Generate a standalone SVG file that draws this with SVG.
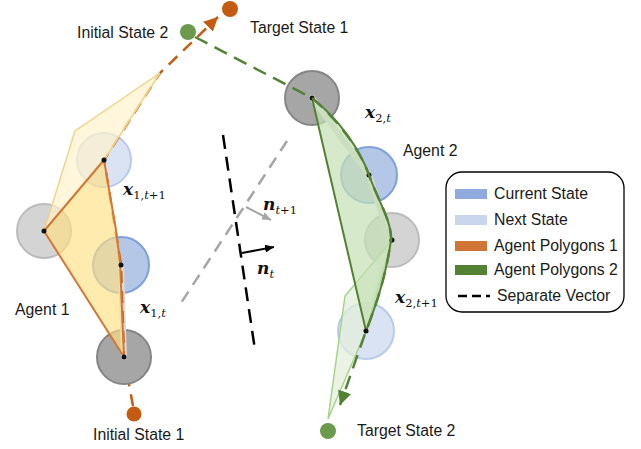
<svg xmlns="http://www.w3.org/2000/svg" width="641" height="449" viewBox="0 0 641 449">
<style>
.lbl{font-family:"Liberation Sans",Arial,sans-serif;font-size:15.8px;fill:#1a1a1a}
.math{font-family:"DejaVu Serif","Liberation Serif",serif;font-size:17px;font-weight:bold;font-style:italic;fill:#111}
.sub{font-size:11.5px;font-weight:normal;font-style:normal}
.it{font-style:italic}
.dark{fill:#a6a6a6;stroke:#858585;stroke-width:2}
.lgray{fill:#d0d0d0;stroke:#b5b5b5;stroke-width:2;opacity:0.9}
.cur{fill:#b4c7e7;stroke:#7ea1dc;stroke-width:2}
.nxt{fill:#dae3f3;stroke:#b8cbea;stroke-width:2}
.ctr{fill:#111}
.band{fill:none;stroke:#d9d9d9;stroke-width:6;stroke-linecap:round;stroke-linejoin:round}
</style>
<defs>
<marker id="arrO" markerUnits="userSpaceOnUse" markerWidth="16" markerHeight="14" refX="14" refY="7" orient="auto"><path d="M0,0 L14,7 L0,14 Z" fill="#c55a11"/></marker>
<marker id="arrG" markerUnits="userSpaceOnUse" markerWidth="16" markerHeight="14" refX="14" refY="7" orient="auto"><path d="M0,0 L14,7 L0,14 Z" fill="#548235"/></marker>
<marker id="arrK" markerUnits="userSpaceOnUse" markerWidth="10" markerHeight="8" refX="9" refY="4" orient="auto"><path d="M0,0 L9,4 L0,8 Z" fill="#000"/></marker>
<marker id="arrGr" markerUnits="userSpaceOnUse" markerWidth="10" markerHeight="8" refX="9" refY="4" orient="auto"><path d="M0,0 L9,4 L0,8 Z" fill="#a6a6a6"/></marker>
</defs>
<rect width="641" height="449" fill="#fff"/>

<!-- Agent 1 -->
<g id="agent1">
<path d="M133,406 L124,357" fill="none" stroke="#c55a11" stroke-width="2.5" stroke-dasharray="12 8"/>
<circle class="dark" cx="124" cy="357" r="27"/>
<circle class="lgray" cx="44" cy="231" r="27"/>
<circle class="cur" cx="121" cy="265" r="28"/>
<circle class="nxt" cx="104" cy="160" r="27"/>
<path class="band" d="M124,357 L121,265"/>
<path d="M124,357 L121,265 L104,160 L160,73 L218,17" fill="none" stroke="#c55a11" stroke-width="2.5" stroke-dasharray="12 8" stroke-dashoffset="6" marker-end="url(#arrO)"/>
<polygon points="44,231 75,131 160,73 104,160" fill="#fff2cc" fill-opacity="0.7" stroke="#f0d48a" stroke-width="1.5"/>
<polygon points="104,160 44,231 124,357 120,262 116,230" fill="#ffe083" fill-opacity="0.65" stroke="#d27835" stroke-width="2" stroke-linejoin="round"/>
<circle class="ctr" cx="124" cy="357" r="2.5"/>
<circle class="ctr" cx="44" cy="231" r="2.5"/>
<circle class="ctr" cx="121" cy="265" r="2.5"/>
<circle class="ctr" cx="104" cy="160" r="2.5"/>
<text class="lbl" x="15" y="315">Agent 1</text>
</g>

<!-- Agent 2 -->
<g id="agent2">
<circle class="dark" cx="312" cy="98" r="27"/>
<circle class="cur" cx="369" cy="175" r="28"/>
<circle class="lgray" cx="392" cy="240" r="27"/>
<circle class="nxt" cx="366" cy="331" r="28"/>
<path class="band" d="M312,98 L369,175 L390,240 L366,331"/>
<polygon points="392,240 345,296 328,419 366,331" fill="#e2f0d9" fill-opacity="0.7" stroke="#a9d18e" stroke-width="1.5"/>
<path d="M312,98 C340,120 360,150 369,175 C378,200 392,222 391,240 C386,275 378,300 366,331 Z" fill="#c5e0b4" fill-opacity="0.7" stroke="#548235" stroke-width="2" stroke-linejoin="round"/>
<circle class="ctr" cx="312" cy="98" r="2.5"/>
<circle class="ctr" cx="369" cy="175" r="2.5"/>
<circle class="ctr" cx="392" cy="240" r="2.5"/>
<circle class="ctr" cx="366" cy="331" r="2.5"/>
<text class="lbl" x="403" y="156">Agent 2</text>
</g>

<!-- States -->
<g id="initial1">
<circle cx="134" cy="414" r="7.5" fill="#c55a11"/>
<text class="lbl" x="93" y="440">Initial State 1</text>
</g>
<g id="target1">
<circle cx="230" cy="9" r="8" fill="#c55a11"/>
<text class="lbl" x="250" y="33">Target State 1</text>
</g>
<g id="initial2">
<circle cx="188" cy="32" r="8" fill="#6b9a4c"/>
<text class="lbl" x="77" y="38">Initial State 2</text>
</g>
<g id="target2">
<circle cx="328" cy="431" r="8" fill="#6b9a4c"/>
<text class="lbl" x="357" y="436">Target State 2</text>
</g>

<!-- connectors -->
<g id="connectors">
<path d="M195,37 L312,98 C340,122 360,150 369,175 C378,200 392,222 391,240 C386,275 378,300 366,331 L340,405" fill="none" stroke="#548235" stroke-width="2.5" stroke-dasharray="14 8" marker-end="url(#arrG)"/>
<line x1="223" y1="135" x2="255" y2="350" stroke="#000" stroke-width="2.5" stroke-dasharray="14 8"/>
<line x1="287" y1="141" x2="181" y2="303" stroke="#a6a6a6" stroke-width="2.5" stroke-dasharray="12 8"/>
<line x1="242" y1="253" x2="274" y2="247" stroke="#000" stroke-width="2" marker-end="url(#arrK)"/>
<line x1="246" y1="207" x2="271" y2="220" stroke="#a6a6a6" stroke-width="2" marker-end="url(#arrGr)"/>
</g>

<!-- math labels -->
<g id="math">
<text class="math" x="123" y="195">x<tspan class="sub" dy="4">1,<tspan class="it">t</tspan>+1</tspan></text>
<text class="math" x="140" y="313">x<tspan class="sub" dy="4">1,<tspan class="it">t</tspan></tspan></text>
<text class="math" x="365" y="118">x<tspan class="sub" dy="4">2,<tspan class="it">t</tspan></tspan></text>
<text class="math" x="395" y="303">x<tspan class="sub" dy="4">2,<tspan class="it">t</tspan>+1</tspan></text>
<text class="math" x="263" y="210">n<tspan class="sub" dy="4"><tspan class="it">t</tspan>+1</tspan></text>
<text class="math" x="257" y="274">n<tspan class="sub" dy="4"><tspan class="it">t</tspan></tspan></text>
</g>

<!-- legend -->
<g id="legend">
<rect x="446" y="172" width="178" height="140" rx="16" fill="#fff" stroke="#000" stroke-width="1.3"/>
<rect x="455" y="189" width="32" height="10" fill="#8faadc"/>
<text class="lbl" x="494" y="199">Current State</text>
<rect x="455" y="215" width="32" height="10" fill="#c9d6ee"/>
<text class="lbl" x="494" y="225">Next State</text>
<rect x="455" y="241" width="32" height="10" fill="#cf7636"/>
<text class="lbl" x="494" y="251">Agent Polygons 1</text>
<rect x="455" y="265" width="32" height="10" fill="#548235"/>
<text class="lbl" x="494" y="275">Agent Polygons 2</text>
<line x1="458" y1="296" x2="490" y2="296" stroke="#000" stroke-width="2.5" stroke-dasharray="9 5"/>
<text class="lbl" x="497" y="301">Separate Vector</text>
</g>
</svg>
